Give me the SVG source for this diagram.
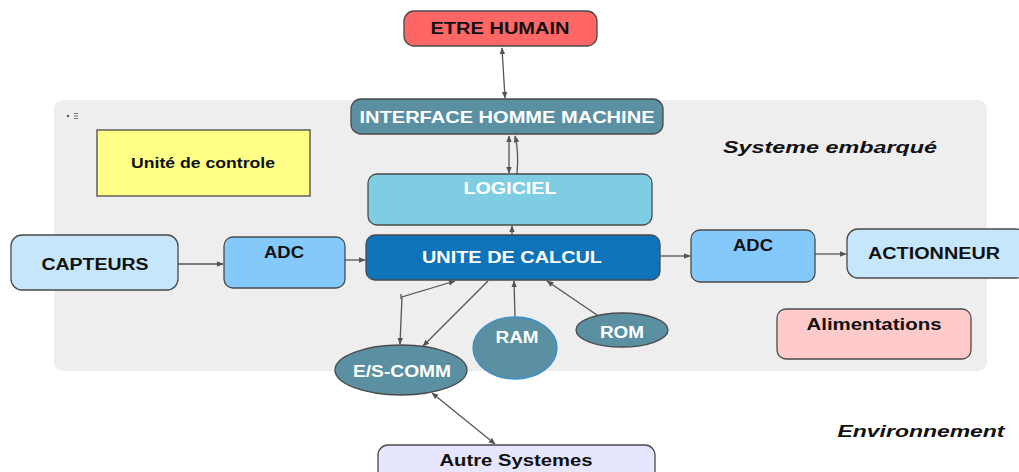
<svg xmlns="http://www.w3.org/2000/svg" width="1019" height="472" viewBox="0 0 1019 472">
<style>
.n{stroke:#4a4a4a;stroke-width:1.3}
.t{font-family:"Liberation Sans",Arial,sans-serif;font-weight:bold;font-size:16px;text-anchor:middle}
.w{fill:#ffffff}
.k{fill:#111111}
.i{font-style:italic;font-size:16px}
.c{fill:none;stroke:#555555;stroke-width:1.3}
</style>
<defs>
<marker id="a" viewBox="0 0 10 10" refX="9" refY="5" markerWidth="7" markerHeight="7" orient="auto-start-reverse" markerUnits="userSpaceOnUse">
<path d="M0,1 L10,5 L0,9 z" fill="#555555"/>
</marker>
</defs>
<rect width="1019" height="472" fill="#ffffff"/>
<g id="systeme">
<rect x="54" y="100" width="933" height="271" rx="9" fill="#eeeeee"/>
<circle cx="68" cy="116" r="1.3" fill="#666"/>
<path d="M74,113.5h4M74,116h4M74,118.5h4" stroke="#777" stroke-width="1"/>
<text class="t k i" x="830" y="153" textLength="214" lengthAdjust="spacingAndGlyphs">Systeme embarqué</text>
</g>
<g id="environnement"><text class="t k i" x="921" y="437" textLength="167" lengthAdjust="spacingAndGlyphs">Environnement</text></g>
<g id="connectors">
<path class="c" d="M502,48 L505,98" marker-start="url(#a)" marker-end="url(#a)"/>
<path class="c" d="M509,173 L509,136" marker-start="url(#a)" marker-end="url(#a)"/>
<path class="c" d="M517,174 Q519,152 515,136" marker-end="url(#a)"/>
<path class="c" d="M512,235 L512,226" marker-end="url(#a)"/>
<path class="c" d="M178,264 L223,264" marker-end="url(#a)"/>
<path class="c" d="M345,260 L365,260" marker-end="url(#a)"/>
<path class="c" d="M660,256 L690,256" marker-end="url(#a)"/>
<path class="c" d="M815,254 L846,254" marker-end="url(#a)"/>
<path class="c" d="M400,344 L402,297 L455,281" marker-start="url(#a)" marker-end="url(#a)"/>
<path class="c" d="M401,294 L401,299"/>
<path class="c" d="M488,281 L423,346" marker-end="url(#a)"/>
<path class="c" d="M515,317 L514,281" marker-end="url(#a)"/>
<path class="c" d="M597,315 L547,281" marker-end="url(#a)"/>
<path class="c" d="M432,393 L495,444" marker-start="url(#a)" marker-end="url(#a)"/>
</g>
<g id="etre-humain">
<rect class="n" x="404" y="11" width="193" height="35" rx="10" fill="#ff6666"/>
<text class="t k" x="500" y="34" textLength="139" lengthAdjust="spacingAndGlyphs">ETRE HUMAIN</text>
</g>
<g id="ihm">
<rect class="n" x="351" y="99" width="312" height="35" rx="10" fill="#5a90a2"/>
<text class="t w" x="507" y="123" textLength="295" lengthAdjust="spacingAndGlyphs">INTERFACE HOMME MACHINE</text>
</g>
<g id="logiciel">
<rect class="n" x="368" y="174" width="284" height="51" rx="9" fill="#7fcde3"/>
<text class="t w" x="510" y="194" textLength="93" lengthAdjust="spacingAndGlyphs">LOGICIEL</text>
</g>
<g id="unite-calcul">
<rect class="n" x="366" y="235" width="294" height="45" rx="9" fill="#0e73b9"/>
<text class="t w" x="512" y="263" textLength="180" lengthAdjust="spacingAndGlyphs">UNITE DE CALCUL</text>
</g>
<g id="unite-controle">
<rect class="n" x="97" y="130" width="213" height="66" fill="#ffff88" stroke-width="1"/>
<text class="t k" x="203" y="168" style="font-size:14px" textLength="144" lengthAdjust="spacingAndGlyphs">Unité de controle</text>
</g>
<g id="capteurs">
<rect class="n" x="11" y="235" width="167" height="55" rx="11" fill="#c6e6fb"/>
<text class="t k" x="95" y="270" textLength="107" lengthAdjust="spacingAndGlyphs">CAPTEURS</text>
</g>
<g id="adc-1">
<rect class="n" x="224" y="237" width="121" height="51" rx="9" fill="#84c9fb"/>
<text class="t k" x="284" y="258" textLength="40" lengthAdjust="spacingAndGlyphs">ADC</text>
</g>
<g id="adc-2">
<rect class="n" x="691" y="230" width="124" height="52" rx="9" fill="#84c9fb"/>
<text class="t k" x="753" y="251" textLength="40" lengthAdjust="spacingAndGlyphs">ADC</text>
</g>
<g id="actionneur">
<rect class="n" x="847" y="229" width="180" height="49" rx="11" fill="#c6e6fb"/>
<text class="t k" x="934" y="259" textLength="132" lengthAdjust="spacingAndGlyphs">ACTIONNEUR</text>
</g>
<g id="alimentations">
<rect class="n" x="777" y="309" width="194" height="50" rx="9" fill="#ffcaca"/>
<text class="t k" x="874" y="330" textLength="135" lengthAdjust="spacingAndGlyphs">Alimentations</text>
</g>
<g id="es-comm">
<ellipse class="n" cx="401" cy="370" rx="66" ry="25" fill="#5a90a2"/>
<text class="t w" x="402" y="377" textLength="98" lengthAdjust="spacingAndGlyphs">E/S-COMM</text>
</g>
<g id="ram">
<ellipse cx="515" cy="348" rx="42" ry="31" fill="#5a90a2" stroke="#3a8fd0" stroke-width="1.3"/>
<text class="t w" x="517" y="343" textLength="43" lengthAdjust="spacingAndGlyphs">RAM</text>
</g>
<g id="rom">
<ellipse class="n" cx="622" cy="330" rx="46" ry="17" fill="#5a90a2"/>
<text class="t w" x="622" y="338" textLength="44" lengthAdjust="spacingAndGlyphs">ROM</text>
</g>
<g id="autre-systemes">
<rect class="n" x="378" y="445" width="277" height="40" rx="10" fill="#e6e6fe"/>
<text class="t k" x="516" y="466" textLength="153" lengthAdjust="spacingAndGlyphs">Autre Systemes</text>
</g>
</svg>
